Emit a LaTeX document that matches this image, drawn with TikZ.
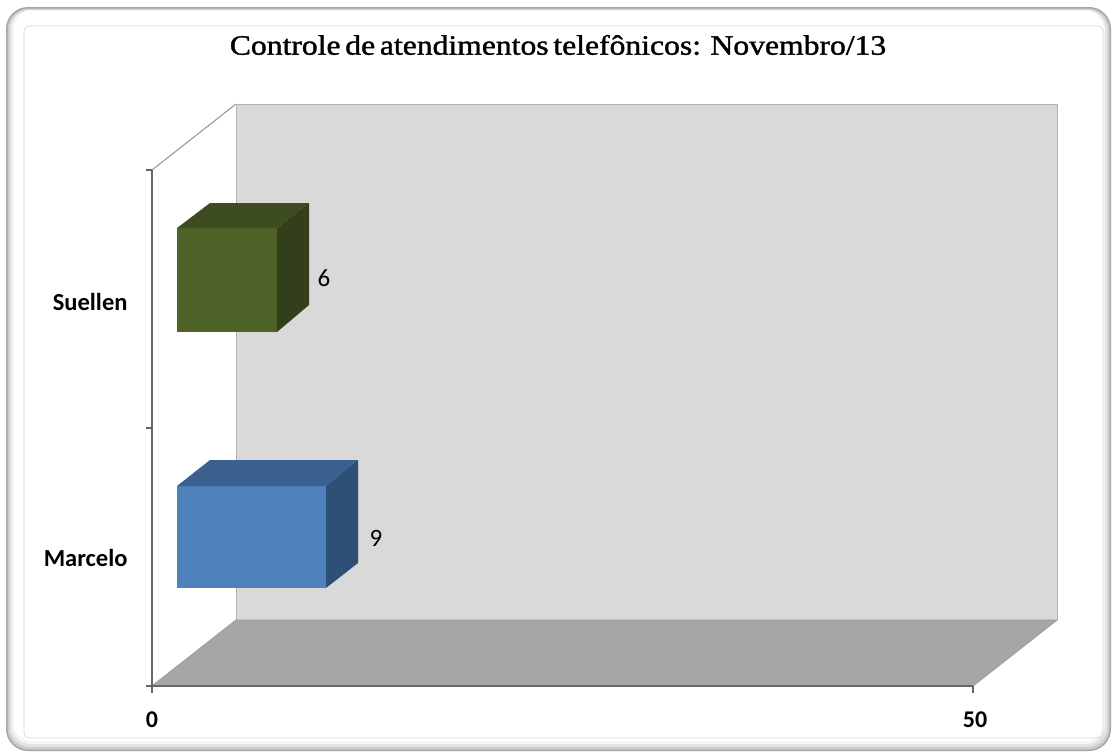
\documentclass[tikz,border=0pt]{standalone}
\usepackage{fontspec}
\setmainfont{Liberation Serif}
\newfontfamily\carlitofont{Carlito}
\newfontfamily\titlefont[FakeBold=1.2, WordSpace=0.6]{Liberation Serif}
\begin{document}
\begin{tikzpicture}[x=1pt,y=-1pt,
  axisline/.style={draw=gray!80!black, line width=1.2pt},
  catlabel/.style={font=\carlitofont\bfseries\fontsize{24.5}{28}\selectfont, anchor=east},
  vallabel/.style={font=\carlitofont\fontsize{25}{28}\selectfont},
  ticklabel/.style={font=\carlitofont\bfseries\fontsize{24}{28}\selectfont}]
\useasboundingbox (0,0) rectangle (1113,753);
% frame
\fill[white] (0,0) rectangle (1113,753);
\fill[gray!70, rounded corners=22pt] (6,7) rectangle (1111,751);
\fill[gray!40, rounded corners=21pt] (7.5,8.5) rectangle (1109.5,749.5);
\fill[gray!22, rounded corners=20pt] (9.5,9.5) rectangle (1107.5,747);
\fill[gray!8, rounded corners=19pt] (11.5,10) rectangle (1105,744);
\fill[white, rounded corners=18pt] (14,10.5) rectangle (1103,741);
\draw[gray!30, line width=0.8pt, rounded corners=5pt] (24,26) rectangle (1103,738);
% title
\node[font=\titlefont\fontsize{28}{32}\selectfont, xscale=1.13] (title) at (558,45) {Controle de atendimentos telef\^onicos:\ \ Novembro/13};
% walls
\coordinate (fl) at (152,686);
\coordinate (bl) at (236,620);
\coordinate (br) at (1057,620);
\coordinate (fr) at (973,686);
\coordinate (tl) at (152,170);
\coordinate (tb) at (236,104);
\coordinate (tbr) at (1057,104);
\fill[gray!30] (tb) rectangle (br);
\draw[gray!60, line width=1pt] (bl) -- (tb) -- (tbr) -- (br);
\fill[gray!70] (fl) -- (bl) -- (br) -- (fr) -- cycle;
\draw[gray!75, line width=1pt] (fl) -- (bl) -- (br) -- (fr) -- cycle;
\draw[gray!80, line width=1.1pt] (tl) -- (tb);
\draw[axisline] (tl) -- (fl) -- (fr);
% ticks
\draw[axisline] (146,170) -- (152,170);
\draw[axisline] (146,428) -- (152,428);
\draw[axisline] (146,686) -- (152,686);
\draw[axisline] (152,686) -- (152,693);
\draw[axisline] (973,686) -- (973,693);
% tick labels
\node[ticklabel] (t0) at (152,720) {0};
\node[ticklabel] (t50) at (975,720) {50};
\node[catlabel] (suellen) at (131,302) {Suellen};
\node[catlabel] (marcelo) at (131,558) {Marcelo};
% green bar
\fill[fill={rgb,255:red,79;green,98;blue,40}] (177,228) rectangle (277,332);
\fill[fill={rgb,255:red,62;green,77;blue,31}] (177,228) -- (210,203) -- (309,203) -- (277,228) -- cycle;
\fill[fill={rgb,255:red,50;green,63;blue,26}] (277,228) -- (309,203) -- (309,305) -- (277,332) -- cycle;
\node[vallabel] (v6) at (324,278) {6};
% blue bar
\fill[fill={rgb,255:red,79;green,129;blue,189}] (177,486) rectangle (326,588);
\fill[fill={rgb,255:red,59;green,97;blue,143}] (177,486) -- (210,460) -- (358,460) -- (326,486) -- cycle;
\fill[fill={rgb,255:red,47;green,80;blue,118}] (326,486) -- (358,460) -- (358,563) -- (326,588) -- cycle;
\node[vallabel] (v9) at (376,538) {9};
\end{tikzpicture}
\end{document}
